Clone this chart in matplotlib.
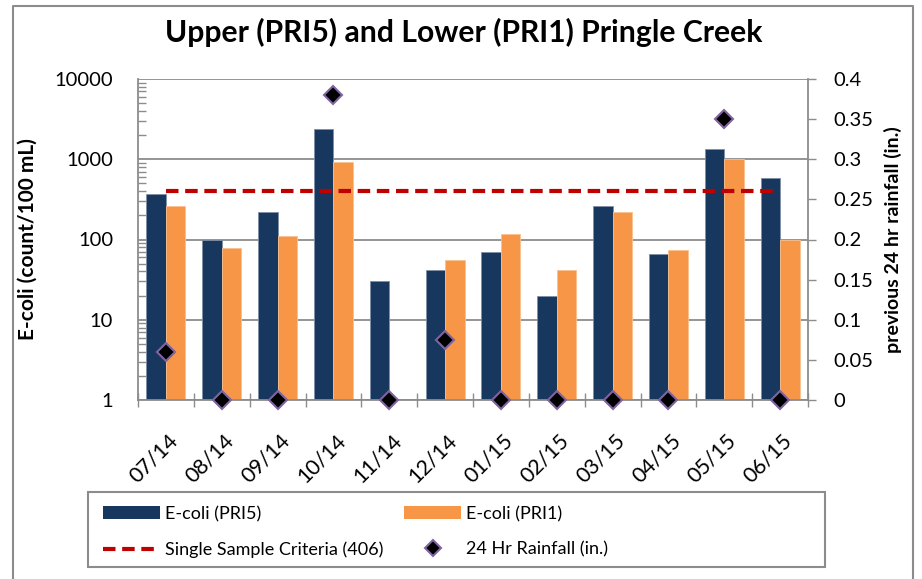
import matplotlib
matplotlib.use("Agg")
import matplotlib.pyplot as plt
import matplotlib.transforms as mtransforms
import numpy as np
from matplotlib.lines import Line2D
from matplotlib.patches import Patch, Rectangle

plt.rcParams['font.family'] = ['Lato', 'DejaVu Sans']

# data
months = ['07/14', '08/14', '09/14', '10/14', '11/14', '12/14',
          '01/15', '02/15', '03/15', '04/15', '05/15', '06/15']
ecoli_pri5 = [370, 100, 220, 2400, 30, 42, 70, 20, 263, 66, 1350, 590]
ecoli_pri1 = [263, 79, 112, 930, np.nan, 56, 118, 42, 220, 74, 1000, 100]
criteria = 406
rainfall = [0.06, 0, 0, 0.38, 0, 0.075, 0, 0, 0, 0, 0.35, 0]

navy = '#17375E'
orange = '#F79646'
red = '#C00000'
grey = '#8C8C8C'

W, H = 922, 579
fig = plt.figure(figsize=(W / 100, H / 100), dpi=100)
ax = fig.add_axes([138 / W, 1 - 400 / H, 670 / W, 321 / H])

x = np.arange(len(months))
bw = 0.35
ax.bar(x - bw / 2, ecoli_pri5, bw, color=navy, edgecolor='#7F8FA6', linewidth=0.6, zorder=2)
ax.bar(x + bw / 2, ecoli_pri1, bw, color=orange, edgecolor='#FAC090', linewidth=0.6, zorder=2)
ax.plot([x[0], x[-1]], [criteria, criteria], color=red, linestyle=(0, (3, 1.6)), linewidth=3, zorder=3)

ax.set_yscale('log')
ax.set_ylim(1, 10000)
ax.set_xlim(-0.5, len(months) - 0.5)
ax.set_yticks([1, 10, 100, 1000, 10000])
ax.set_yticklabels(['1', '10', '100', '1000', '10000'], fontsize=14.5)
ax.yaxis.grid(True, which='major', color=grey, linewidth=1.3, zorder=0)
ax.tick_params(axis='y', which='major', length=0, pad=18)
ax.tick_params(axis='y', which='minor', direction='in', length=6, color=grey, width=1)

ax.set_xticks(np.arange(-0.5, len(months)), minor=False)
ax.set_xticklabels([])
ax.set_xticks(x, minor=True)
ax.set_xticklabels(months, minor=True, rotation=45, ha='right', va='center',
                   rotation_mode='anchor', fontsize=15.5)
ax.tick_params(axis='x', which='major', direction='inout', length=10, color=grey, width=1)
ax.tick_params(axis='x', which='minor', length=0, pad=27)
shift = mtransforms.ScaledTranslation(9 / 100, 0, fig.dpi_scale_trans)
for lab in ax.get_xticklabels(minor=True):
    lab.set_transform(lab.get_transform() + shift)

for s in ['left', 'bottom']:
    ax.spines[s].set_color(grey)
    ax.spines[s].set_linewidth(1.3)
ax.spines['top'].set_visible(False)
ax.spines['right'].set_visible(False)

ax.set_ylabel('E-coli (count/100 mL)', fontsize=15, fontweight='bold', labelpad=12)

ax2 = ax.twinx()
ax2.plot(x, rainfall, linestyle='none', marker='D', markersize=9.5, markerfacecolor='black',
         markeredgecolor='#8064A2', markeredgewidth=1.5, zorder=4, clip_on=False)
ax2.set_ylim(0, 0.4)
ax2.set_yticks(np.arange(0, 0.41, 0.05))
ax2.set_yticklabels(['0', '0.05', '0.1', '0.15', '0.2', '0.25', '0.3', '0.35', '0.4'], fontsize=14.5)
ax2.tick_params(axis='y', direction='out', length=6, color=grey, width=1, pad=12)
for s in ['left', 'bottom', 'top']:
    ax2.spines[s].set_visible(False)
ax2.spines['right'].set_color(grey)
ax2.spines['right'].set_linewidth(1.3)
ax2.set_ylabel('previous 24 hr rainfall (in.)', fontsize=14, fontweight='bold', labelpad=8)

fig.text(464 / W, 1 - 32 / H, 'Upper (PRI5) and Lower (PRI1) Pringle Creek',
         ha='center', va='center', fontsize=21.7, fontweight='bold')

handles = [
    Patch(facecolor=navy, label='E-coli (PRI5)'),
    Line2D([], [], color=red, linestyle=(0, (3, 1.6)), linewidth=3, label='Single Sample Criteria (406)'),
    Patch(facecolor=orange, label='E-coli (PRI1)'),
    Line2D([], [], linestyle='none', marker='D', markersize=8, markerfacecolor='black',
           markeredgecolor='#8064A2', markeredgewidth=1.5, label='24 Hr Rainfall (in.)'),
]
fig.legend(handles=handles, ncol=2, loc='upper left',
           bbox_to_anchor=(103 / W, 1 - 506 / H), fontsize=13, frameon=False,
           handlelength=3.15, handleheight=0.72, columnspacing=1.15, handletextpad=0.28,
           borderpad=0, borderaxespad=0, labelspacing=1.08)
fig.add_artist(Rectangle((88 / W, 1 - 567 / H), (825 - 88) / W, 75 / H,
                         transform=fig.transFigure, fill=False, edgecolor=grey, linewidth=1.5))

# outer chart border
fig.add_artist(Line2D([13 / W, 13 / W, 913 / W, 913 / W], [0, 1 - 6 / H, 1 - 6 / H, 0],
                      transform=fig.transFigure, color=grey, linewidth=1.5))

fig.savefig('out.png', dpi=100)
